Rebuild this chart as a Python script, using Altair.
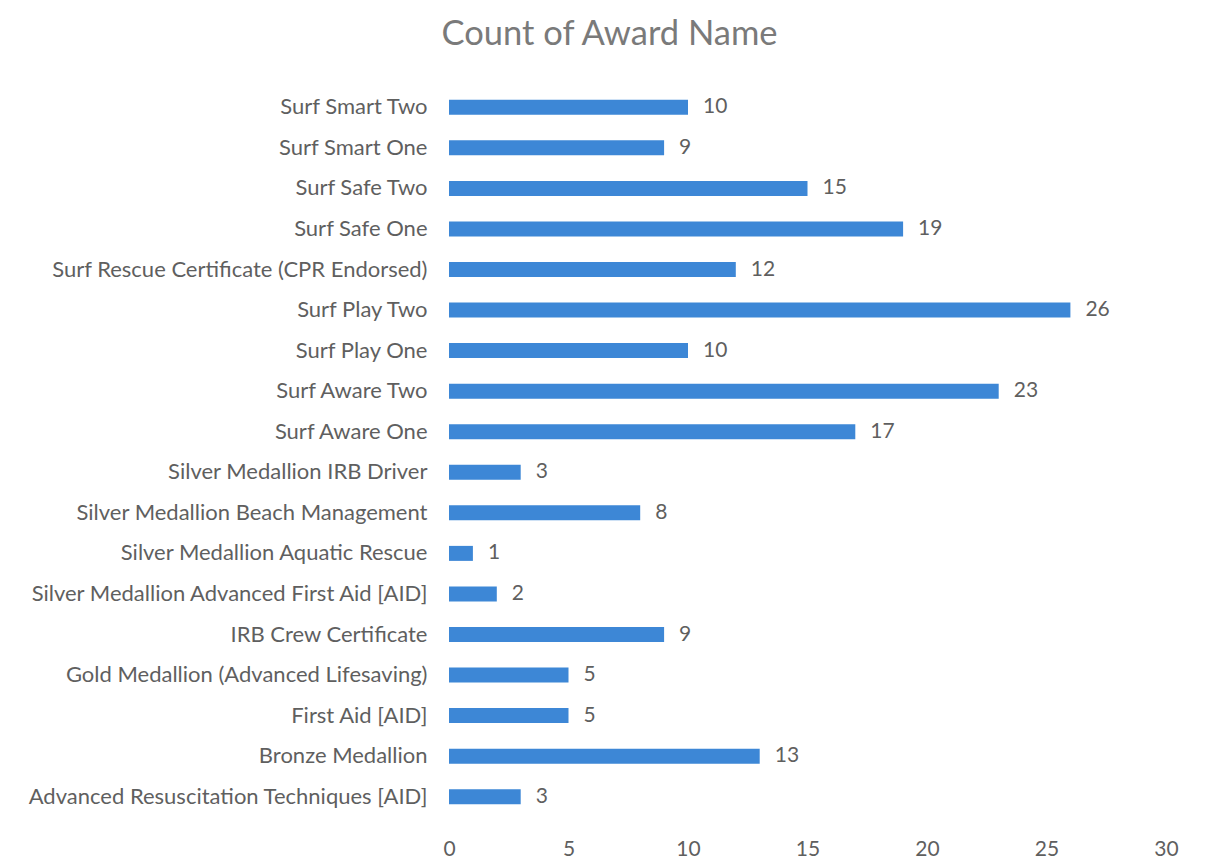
import altair as alt
import pandas as pd

categories = [
    "Surf Smart Two",
    "Surf Smart One",
    "Surf Safe Two",
    "Surf Safe One",
    "Surf Rescue Certificate (CPR Endorsed)",
    "Surf Play Two",
    "Surf Play One",
    "Surf Aware Two",
    "Surf Aware One",
    "Silver Medallion IRB Driver",
    "Silver Medallion Beach Management",
    "Silver Medallion Aquatic Rescue",
    "Silver Medallion Advanced First Aid [AID]",
    "IRB Crew Certificate",
    "Gold Medallion (Advanced Lifesaving)",
    "First Aid [AID]",
    "Bronze Medallion",
    "Advanced Resuscitation Techniques [AID]",
]
counts = [10, 9, 15, 19, 12, 26, 10, 23, 17, 3, 8, 1, 2, 9, 5, 5, 13, 3]
x_ticks = [0, 5, 10, 15, 20, 25, 30]

df = pd.DataFrame({"award": categories, "count": counts})

FONT = "Lato"
GREY = "#5f5f5f"

y_enc = alt.Y(
    "award:N",
    sort=None,
    title=None,
    scale=alt.Scale(paddingInner=0, paddingOuter=0),
    axis=alt.Axis(
        ticks=False, domain=False, labelPadding=22, labelFontSize=22,
        labelColor=GREY, labelFont=FONT, labelLimit=500,
    ),
)
x_enc = alt.X(
    "count:Q",
    title=None,
    scale=alt.Scale(domain=[0, 30], nice=False),
    axis=alt.Axis(
        values=x_ticks, grid=False, ticks=False, domain=False, labelFlush=False,
        labelPadding=21, labelFontSize=21, labelColor=GREY, labelFont=FONT,
    ),
)

base = alt.Chart(df).encode(y=y_enc, x=x_enc)
bars = base.mark_bar(size=15, color="#3d87d6")
labels = base.mark_text(
    align="left", baseline="middle", dx=15, fontSize=21, font=FONT, color=GREY
).encode(text="count:Q")

chart = (
    (bars + labels)
    .properties(
        width=717,
        height=730,
        padding={"left": 441, "top": 79, "right": 30, "bottom": 45},
        autosize=alt.AutoSizeParams(type="none"),
        title=alt.TitleParams(
            "Count of Award Name", fontSize=34.5, font=FONT, fontWeight="normal",
            color="#7a7a7a", anchor="middle", dx=-198, offset=35,
        ),
        background="white",
    )
    .configure_view(stroke=None)
)

chart.save("out.html", embed_options={"renderer": "svg", "actions": False})
